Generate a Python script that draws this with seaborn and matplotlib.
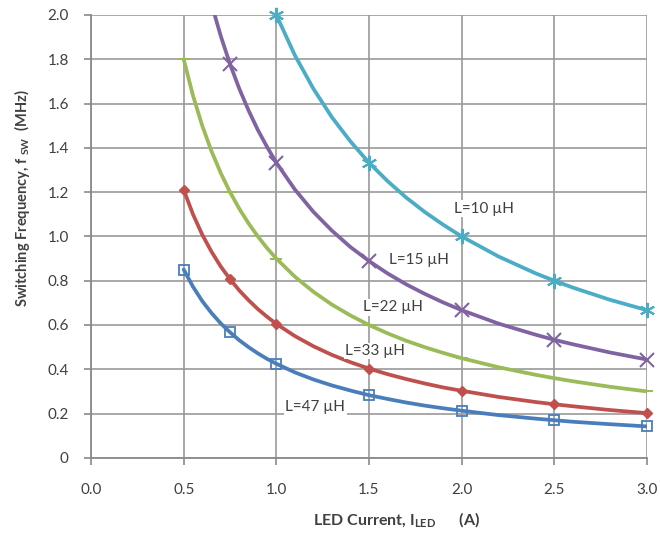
import matplotlib
matplotlib.use("Agg")
import matplotlib.pyplot as plt
import seaborn as sns
import pandas as pd

# ---- data ----
current_grid = [0.5, 0.55, 0.6, 0.65, 0.7, 0.75, 0.8, 0.85, 0.9, 0.95, 1.0, 1.1, 1.2, 1.3, 1.4,
                1.5, 1.6, 1.7, 1.8, 1.9, 2.0, 2.2, 2.4, 2.5, 2.6, 2.8, 3.0]
curve_L10 = [None, None, None, None, None, None, None, None, None, None,
             2.0, 1.818, 1.667, 1.538, 1.429, 1.333, 1.25, 1.176, 1.111, 1.053,
             1.0, 0.909, 0.833, 0.8, 0.769, 0.714, 0.667]
curve_L15 = [None, None, None, 2.05, 1.905, 1.778, 1.667, 1.569, 1.481, 1.404,
             1.333, 1.212, 1.111, 1.026, 0.952, 0.889, 0.833, 0.784, 0.741, 0.702,
             0.667, 0.606, 0.556, 0.533, 0.513, 0.476, 0.444]
curve_L22 = [1.8, 1.636, 1.5, 1.385, 1.286, 1.2, 1.125, 1.059, 1.0, 0.947,
             0.9, 0.818, 0.75, 0.692, 0.643, 0.6, 0.5625, 0.529, 0.5, 0.474,
             0.45, 0.409, 0.375, 0.36, 0.346, 0.321, 0.3]
curve_L33 = [1.21, 1.1, 1.008, 0.931, 0.864, 0.807, 0.756, 0.712, 0.672, 0.637,
             0.605, 0.55, 0.504, 0.465, 0.432, 0.403, 0.378, 0.356, 0.336, 0.318,
             0.303, 0.275, 0.252, 0.242, 0.233, 0.216, 0.202]
curve_L47 = [0.85, 0.773, 0.708, 0.654, 0.607, 0.567, 0.531, 0.5, 0.472, 0.447,
             0.425, 0.386, 0.354, 0.327, 0.304, 0.283, 0.266, 0.25, 0.236, 0.224,
             0.213, 0.193, 0.177, 0.17, 0.163, 0.152, 0.142]

marker_currents = [0.5, 0.75, 1.0, 1.5, 2.0, 2.5, 3.0]
marks_L10 = [None, None, 2.0, 1.333, 1.0, 0.8, 0.667]
marks_L15 = [None, 1.778, 1.333, 0.889, 0.667, 0.533, 0.444]
marks_L22 = [1.8, 1.2, 0.9, 0.6, 0.45, 0.36, 0.3]
marks_L33 = [1.21, 0.807, 0.605, 0.403, 0.303, 0.242, 0.202]
marks_L47 = [0.85, 0.567, 0.425, 0.283, 0.213, 0.17, 0.142]

series_names = ["L=10 µH", "L=15 µH", "L=22 µH", "L=33 µH", "L=47 µH"]
label_pos_x = [2.12, 1.77, 1.63, 1.535, 1.21]
label_pos_y = [1.125, 0.895, 0.68, 0.483, 0.23]

x_ticks = [0.0, 0.5, 1.0, 1.5, 2.0, 2.5, 3.0]
x_tick_labels = ["0.0", "0.5", "1.0", "1.5", "2.0", "2.5", "3.0"]
y_ticks = [0, 0.2, 0.4, 0.6, 0.8, 1.0, 1.2, 1.4, 1.6, 1.8, 2.0]
y_tick_labels = ["0", "0.2", "0.4", "0.6", "0.8", "1.0", "1.2", "1.4", "1.6", "1.8", "2.0"]

# ---- style ----
sns.set_style("white")
plt.rcParams["font.family"] = ["Lato", "DejaVu Sans"]
plt.rcParams["mathtext.fontset"] = "custom"
plt.rcParams["mathtext.rm"] = "Lato"
plt.rcParams["mathtext.bf"] = "Lato:bold"

colors = ["#4BACC6", "#8064A2", "#9BBB59", "#C0504D", "#4A7EBB"]
asterisk = (6, 2, 0)
marker_styles = [asterisk, "x", "_", "D", "s"]
marker_sizes = [11, 10, 9, 5, 7]
marker_filled = [False, False, False, True, False]

curves = [curve_L10, curve_L15, curve_L22, curve_L33, curve_L47]
marks = [marks_L10, marks_L15, marks_L22, marks_L33, marks_L47]

fig = plt.figure(figsize=(6.6, 5.33), dpi=100)
ax = fig.add_axes([0.138, 0.141, 0.842, 0.831])

for name, c, curve, mk, m, ms, filled in zip(series_names, colors, curves, marks,
                                               marker_styles, marker_sizes, marker_filled):
    df = pd.DataFrame({"I": current_grid, "f": curve}).dropna()
    sns.lineplot(data=df, x="I", y="f", color=c, linewidth=2.7, ax=ax, sort=False,
                 estimator=None, legend=False, zorder=3)
    dm = pd.DataFrame({"I": marker_currents, "f": mk}).dropna()
    for xi, yi in zip(dm["I"], dm["f"]):
        if filled:
            ax.plot([xi], [yi], marker=m, markersize=ms, color=c, markeredgecolor=c,
                    markeredgewidth=1.0, zorder=4, clip_on=False)
        elif m in ("x", "_", asterisk):
            ax.plot([xi], [yi], marker=m, markersize=ms, color=c, markeredgecolor=c,
                    markeredgewidth=1.5, zorder=4, clip_on=False)
        else:
            ax.plot([xi], [yi], marker=m, markersize=ms, markerfacecolor="none",
                    markeredgecolor=c, markeredgewidth=1.3, zorder=4, clip_on=False)

for name, lx, ly in zip(series_names, label_pos_x, label_pos_y):
    ax.text(lx, ly, name, ha="center", va="center", fontsize=11, color="#404040",
            zorder=5, bbox=dict(facecolor="white", edgecolor="none", pad=1.0))

ax.set_xlim(0, 3.0)
ax.set_ylim(0, 2.0)
ax.set_xticks(x_ticks)
ax.set_xticklabels(x_tick_labels)
ax.set_yticks(y_ticks)
ax.set_yticklabels(y_tick_labels)
ax.grid(True, color="#9a9a9a", linewidth=1.2, zorder=0)
ax.set_axisbelow(True)
for s in ["top", "right"]:
    ax.spines[s].set_visible(False)
for s in ["left", "bottom"]:
    ax.spines[s].set_color("#8a8a8a")
    ax.spines[s].set_linewidth(1.3)
ax.tick_params(axis="both", direction="out", length=5, width=1.2, color="#8a8a8a",
               labelsize=11, labelcolor="#404040", pad=11)
ax.tick_params(axis="x", pad=13)
ax.tick_params(axis="both", which="both", bottom=True, left=True)

ax.set_xlabel(r"LED Current, I$_{\mathbf{LED}}$      (A)", fontsize=11.5,
              fontweight="bold", color="#404040")
ax.xaxis.set_label_coords(0.549, -0.12)
ax.set_ylabel(r"Switching Frequency, f $_{\mathbf{SW}}$  (MHz)", fontsize=10.5,
              fontweight="bold", color="#404040")
ax.yaxis.set_label_coords(-0.106, 0.587)

fig.savefig("out.png", dpi=100, facecolor="white")
